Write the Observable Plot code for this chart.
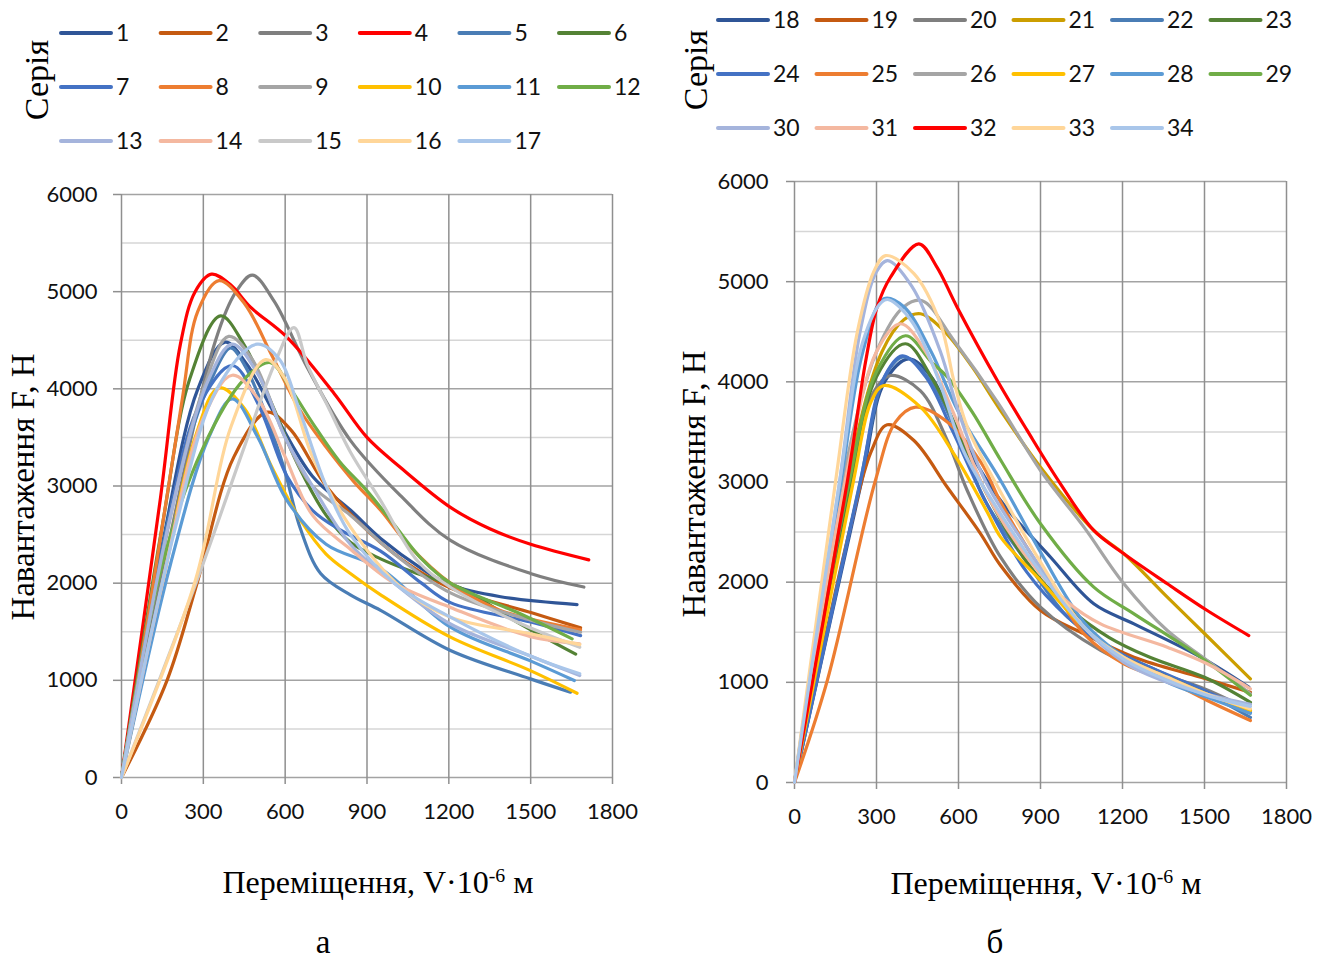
<!DOCTYPE html>
<html><head><meta charset="utf-8">
<script src="https://cdn.jsdelivr.net/npm/d3@7"></script>
<script src="https://cdn.jsdelivr.net/npm/@observablehq/plot@0.6"></script>
<style>
body{margin:0;background:#fff;}
#root{position:relative;width:1333px;height:964px;overflow:hidden;background:#fff;}
.abs{position:absolute;}
.serif{font-family:"Liberation Serif","DejaVu Serif",serif;color:#000;white-space:nowrap;}
</style></head><body>
<div id="root"></div>
<script>
// ---------- data ----------
const xTicks = [0, 300, 600, 900, 1200, 1500, 1800];
const yTicks = [0, 1000, 2000, 3000, 4000, 5000, 6000];
const yMinor = [500, 1500, 2500, 3500, 4500, 5500];

const namesA = ["1","2","3","4","5","6","7","8","9","10","11","12","13","14","15","16","17"];
const namesB = ["18","19","20","21","22","23","24","25","26","27","28","29","30","31","32","33","34"];

const colorsA = ["#2F5597","#C55A11","#7F7F7F","#FF0000","#4A7DB5","#548235","#4472C4","#ED7D31","#A5A5A5","#FFC000","#5B9BD5","#70AD47","#A5B4DC","#F4B8A0","#C9C9C9","#FFD699","#A9C6EA"];
const colorsB = ["#2F5597","#C55A11","#7F7F7F","#CC9E00","#4A7DB5","#548235","#4472C4","#ED7D31","#A5A5A5","#FFC000","#5B9BD5","#70AD47","#A5B4DC","#F4B8A0","#FF0000","#FFD699","#A9C6EA"];

// panel а
const a1 = [[0,0],[150,2400],[280,4000],[380,4480],[460,4250],[560,3750],[700,3100],[840,2750],[950,2460],[1100,2150],[1206,1980],[1390,1860],[1670,1780]];
const a2 = [[0,0],[167,1000],[277,2000],[412,3300],[534,3760],[620,3580],[750,3000],[913,2510],[1050,2200],[1206,1950],[1510,1690],[1683,1540]];
const a3 = [[0,0],[150,2100],[345,4500],[420,5000],[480,5170],[560,4900],[681,4220],[839,3470],[1023,2900],[1206,2440],[1499,2100],[1695,1960]];
const a4 = [[0,0],[143,2880],[216,4460],[270,5000],[330,5180],[400,5070],[473,4840],[607,4530],[780,3950],[900,3500],[1023,3190],[1206,2780],[1350,2560],[1500,2400],[1713,2240]];
const a5 = [[0,0],[200,3000],[330,4100],[400,4420],[450,4250],[510,3880],[595,3190],[656,2560],[730,2100],[839,1880],[950,1720],[1206,1307],[1499,1015],[1646,878]];
const a6 = [[0,0],[150,2600],[250,4100],[363,4750],[450,4450],[550,3850],[650,3200],[750,2700],[839,2420],[950,2250],[1084,2100],[1243,1950],[1450,1600],[1665,1270]];
const a7 = [[0,0],[150,2300],[280,3800],[406,4240],[500,3850],[607,3100],[700,2750],[800,2550],[950,2330],[1100,2000],[1206,1800],[1500,1600],[1683,1460]];
const a8 = [[0,0],[100,1700],[222,3880],[280,4800],[357,5114],[450,4880],[550,4350],[650,3800],[750,3400],[850,3050],[950,2750],[1050,2400],[1206,2000],[1389,1720],[1683,1520]];
const a9 = [[0,0],[150,2300],[300,4000],[393,4540],[480,4300],[600,3500],[700,3000],[839,2700],[1000,2300],[1206,1900],[1500,1620],[1683,1495]];
const a10 = [[0,0],[150,2000],[270,3500],[357,4010],[450,3800],[550,3200],[656,2650],[750,2300],[839,2100],[950,1880],[1206,1444],[1499,1100],[1670,867]];
const a11 = [[0,0],[180,2200],[320,3500],[406,3896],[500,3500],[607,2850],[750,2400],[950,2150],[1206,1547],[1499,1200],[1660,998]];
const a12 = [[0,0],[150,2200],[300,3400],[450,4100],[546,4270],[620,4000],[700,3650],[800,3250],[900,2950],[1000,2600],[1100,2250],[1206,2000],[1450,1700],[1652,1427]];
const a13 = [[0,0],[180,2700],[320,4100],[406,4460],[500,4150],[600,3500],[700,3000],[839,2400],[1000,2000],[1206,1580],[1499,1250],[1680,1050]];
const a14 = [[0,0],[150,2000],[300,3700],[406,4140],[500,3900],[600,3300],[700,2700],[839,2350],[1000,2000],[1206,1750],[1499,1450],[1680,1376]];
const a15 = [[0,0],[277,2030],[450,3400],[560,4250],[632,4630],[681,4250],[760,3800],[839,3350],[950,2850],[1084,2233],[1206,1958],[1450,1600],[1680,1340]];
const a16 = [[0,0],[271,2030],[400,3600],[528,4300],[600,4100],[700,3300],[839,2580],[1023,1960],[1206,1650],[1499,1480],[1680,1368]];
const a17 = [[0,0],[200,2600],[350,4000],[497,4460],[580,4300],[650,3800],[750,3000],[839,2500],[1000,2000],[1206,1650],[1499,1250],[1680,1067]];

// panel б
const b18 = [[0,0],[245,3000],[330,4000],[418,4230],[500,4050],[600,3500],[754,2815],[937,2249],[1095,1784],[1242,1584],[1486,1251],[1662,952]];
const b19 = [[0,0],[200,2500],[280,3300],[339,3571],[437,3414],[559,2948],[681,2483],[754,2166],[900,1717],[1059,1484],[1242,1251],[1486,1050],[1668,900]];
const b20 = [[0,0],[210,3000],[290,3900],[351,4063],[461,3910],[559,3414],[632,2915],[754,2249],[900,1750],[1120,1318],[1242,1168],[1486,952],[1668,720]];
const b21 = [[0,0],[190,3000],[320,4300],[400,4620],[461,4680],[550,4500],[650,4150],[754,3714],[900,3148],[1095,2516],[1205,2283],[1364,1850],[1510,1460],[1668,1035]];
const b22 = [[0,0],[240,3000],[330,4050],[400,4250],[500,4000],[600,3450],[700,2800],[850,2200],[1000,1650],[1150,1350],[1300,1150],[1500,900],[1668,650]];
const b23 = [[0,0],[205,3000],[300,4050],[406,4380],[500,4050],[600,3500],[700,2900],[850,2200],[1000,1750],[1150,1450],[1300,1250],[1500,1050],[1668,800]];
const b24 = [[0,0],[241,3000],[320,4000],[394,4260],[480,4050],[580,3500],[700,2800],[850,2100],[1000,1650],[1150,1350],[1300,1150],[1500,920],[1668,700]];
const b25 = [[0,0],[120,1018],[296,3015],[370,3600],[443,3747],[559,3600],[681,3200],[754,2800],[850,2350],[937,1984],[1059,1484],[1205,1185],[1364,1018],[1510,819],[1668,619]];
const b26 = [[0,0],[175,3000],[300,4300],[400,4750],[467,4810],[583,4413],[742,3800],[900,3115],[1059,2549],[1205,1984],[1364,1517],[1510,1218],[1668,885]];
const b27 = [[0,0],[215,3000],[280,3800],[327,3963],[461,3747],[583,3281],[705,2700],[754,2450],[900,2017],[1059,1550],[1205,1250],[1364,1050],[1510,880],[1668,720]];
const b28 = [[0,0],[170,3000],[250,4300],[327,4830],[400,4750],[500,4300],[600,3700],[754,3015],[900,2300],[1059,1600],[1205,1250],[1364,1000],[1510,850],[1668,690]];
const b29 = [[0,0],[200,3000],[300,4100],[406,4460],[500,4200],[559,4050],[650,3700],[754,3220],[900,2583],[1095,1950],[1242,1684],[1486,1251],[1668,870]];
const b30 = [[0,0],[165,3000],[240,4500],[300,5100],[341,5210],[430,4950],[534,4300],[600,3700],[700,3000],[850,2350],[1059,1550],[1205,1200],[1364,1000],[1510,880],[1668,780]];
const b31 = [[0,0],[185,3000],[300,4300],[388,4580],[480,4300],[580,3700],[700,2900],[850,2250],[1000,1800],[1120,1584],[1364,1351],[1510,1185],[1668,935]];
const b32 = [[0,0],[193,3000],[260,4200],[302,4745],[351,5044],[455,5378],[520,5150],[595,4745],[742,4013],[850,3520],[973,2982],[1095,2516],[1205,2283],[1364,1984],[1510,1717],[1662,1467]];
const b33 = [[0,0],[150,3000],[230,4500],[290,5100],[333,5260],[437,5080],[534,4580],[583,4010],[632,3550],[754,2900],[900,2200],[1059,1550],[1205,1250],[1364,1050],[1510,880],[1668,735]];
const b34 = [[0,0],[165,3000],[250,4400],[320,4800],[345,4820],[430,4600],[530,4000],[620,3300],[750,2700],[900,2100],[1059,1550],[1205,1230],[1364,1020],[1510,870],[1668,760]];

const seriesA = [a1,a2,a3,a4,a5,a6,a7,a8,a9,a10,a11,a12,a13,a14,a15,a16,a17];
const seriesB = [b18,b19,b20,b21,b22,b23,b24,b25,b26,b27,b28,b29,b30,b31,b32,b33,b34];

const yTitle = "Навантаження F, Н";
const legendTitle = "Серія";

// ---------- drawing ----------
const root = document.getElementById("root");

function el(html, cls, style) {
  const d = document.createElement("div");
  d.className = "abs " + cls;
  d.innerHTML = html;
  Object.assign(d.style, style);
  root.appendChild(d);
  return d;
}

function panel(series, names, colors, g) {
  const rows = series.flatMap((s, i) => s.map(([x, y]) => ({x, y, name: names[i]})));
  const fmt = d => String(d);
  const chart = Plot.plot({
    width: g.w, height: g.h,
    marginLeft: g.ml, marginRight: g.mr, marginTop: g.mt, marginBottom: g.mb,
    x: {domain: [0, 1800], label: null},
    y: {domain: [0, 6000], label: null},
    color: {domain: names, range: colors},
    style: {fontFamily: "Lato, 'Open Sans', sans-serif", fontSize: "22px", color: "#111", background: "transparent", overflow: "visible"},
    marks: [
      Plot.ruleY(yMinor, {stroke: "#d6d6d6", strokeWidth: 1.5}),
      Plot.ruleY(yTicks, {stroke: "#a3a3a3", strokeWidth: 1.5}),
      Plot.ruleX(xTicks, {stroke: "#8f8f8f", strokeWidth: 1.5}),
      Plot.axisX(xTicks, {tickSize: 7, tickPadding: 19, stroke: "#8f8f8f", strokeWidth: 1.5, fill: "#111", tickFormat: fmt, label: null}),
      Plot.axisY(yTicks, {tickSize: 8, tickPadding: g.yPad, stroke: "#8f8f8f", strokeWidth: 1.5, fill: "#111", tickFormat: fmt, label: null}),
      Plot.line(rows, {x: "x", y: "y", z: "name", stroke: "name", strokeWidth: 3.2, curve: "catmull-rom", strokeLinecap: "round", strokeLinejoin: "round"})
    ]
  });
  chart.style.position = "absolute";
  chart.style.left = g.left + "px";
  chart.style.top = g.top + "px";
  root.appendChild(chart);
}

panel(seriesA, namesA, colorsA, {left: 0, top: 150, w: 660, h: 690, ml: 121, mr: 48, mt: 44, mb: 63, yPad: 16});
panel(seriesB, namesB, colorsB, {left: 670, top: 140, w: 663, h: 700, ml: 124, mr: 47, mt: 41, mb: 58, yPad: 18});

// legends
function legend(names, colors, x0, y0, dx, dy) {
  const pad = 20;
  const W = 6 * dx + 80, H = 3 * dy + 2 * pad;
  const svg = d3.create("svg").attr("width", W).attr("height", H)
    .style("position", "absolute").style("left", x0 + "px").style("top", (y0 - pad) + "px")
    .style("overflow", "visible");
  names.forEach((n, i) => {
    const c = i % 6, r = Math.floor(i / 6);
    const x = c * dx, y = pad + r * dy;
    svg.append("line").attr("x1", x + 2).attr("x2", x + 52).attr("y1", y).attr("y2", y)
      .attr("stroke", colors[i]).attr("stroke-width", 4).attr("stroke-linecap", "round");
    svg.append("text").attr("x", x + 57).attr("y", y).attr("dy", "0.36em")
      .attr("font-family", "Lato, 'Open Sans', sans-serif").attr("font-size", 23).attr("fill", "#111").text(n);
  });
  root.appendChild(svg.node());
}
legend(namesA, colorsA, 59, 33, 99.6, 54);
legend(namesB, colorsB, 716, 20, 98.5, 54);

// titles
function rotTitle(text, cx, cy, size) {
  return el(text, "serif", {fontSize: size + "px", left: cx + "px", top: cy + "px", transform: "translate(-50%,-50%) rotate(-90deg)", lineHeight: "1"});
}
rotTitle(legendTitle, 37, 80, 34);
rotTitle(legendTitle, 696, 70, 34);
rotTitle(yTitle, 23, 487, 33);
rotTitle(yTitle, 694, 484, 33);

const xTitleHtml = "Переміщення, V·10<sup style='font-size:0.62em;vertical-align:0.55em'>-6</sup> м";
el(xTitleHtml, "serif", {fontSize: "32px", left: "378px", top: "882px", transform: "translate(-50%,-50%)", lineHeight: "1"});
el(xTitleHtml, "serif", {fontSize: "32px", left: "1046px", top: "883px", transform: "translate(-50%,-50%)", lineHeight: "1"});
el("а", "serif", {fontSize: "33px", left: "323px", top: "942px", transform: "translate(-50%,-50%)", lineHeight: "1"});
el("б", "serif", {fontSize: "33px", left: "995px", top: "942px", transform: "translate(-50%,-50%)", lineHeight: "1"});
</script>
</body></html>
